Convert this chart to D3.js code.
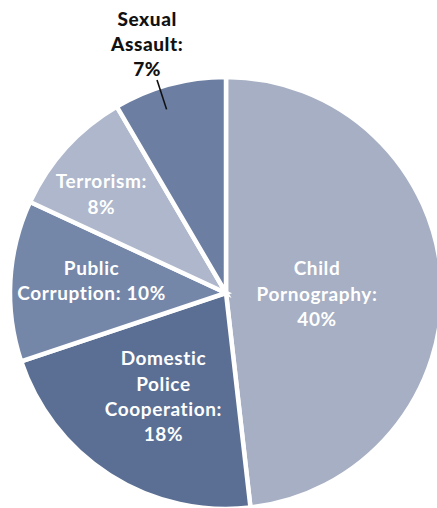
<!DOCTYPE html>
<html>
<head>
<meta charset="utf-8">
<script src="https://cdn.jsdelivr.net/npm/d3@7/dist/d3.min.js"></script>
<style>
  html, body { margin: 0; padding: 0; background: #fff; }
  svg { display: block; }
  text { font-family: "Lato", "Open Sans", sans-serif; }
</style>
</head>
<body>
<svg id="chart" width="437" height="508"></svg>
<script>
// Share of cases by crime type (percent)
const categories = ["Child Pornography", "Domestic Police Cooperation", "Public Corruption", "Terrorism", "Sexual Assault"];
const values = [40, 18, 10, 8, 7];
const labelLines = [
  ["Child", "Pornography:", "40%"],
  ["Domestic", "Police", "Cooperation:", "18%"],
  ["Public", "Corruption: 10%"],
  ["Terrorism:", "8%"],
  ["Sexual", "Assault:", "7%"]
];
const colors = ["#a6afc3", "#5b6f94", "#7587a8", "#aeb7cb", "#6c7ea1"];

const width = 437, height = 508;
const cx = 226, cy = 293, radius = 216;

// label placement: radius of label centre, angular nudge (radians), outside flag
const labelRadius = [91, 121, 135, 159, 261];
const labelNudge = [0.067, -0.024, 0.035, -0.068, -0.042];
const outside = [false, false, false, false, true];
const lineHeight = 25.3;

const svg = d3.select("#chart");
const g = svg.append("g").attr("transform", `translate(${cx},${cy})`);

const data = categories.map((c, i) => ({ name: c, value: values[i], lines: labelLines[i], color: colors[i], i }));

const pie = d3.pie().value(d => d.value).sort(null);
const arcs = pie(data);
const arc = d3.arc().innerRadius(0).outerRadius(radius);

g.selectAll("path.slice")
  .data(arcs)
  .join("path")
  .attr("class", "slice")
  .attr("d", arc)
  .attr("fill", d => d.data.color)
  .attr("stroke", "#fff")
  .attr("stroke-width", 4.5)
  .attr("stroke-linejoin", "miter");

// leader line for the outside label
arcs.filter(d => outside[d.data.i]).forEach(d => {
  const a = (d.startAngle + d.endAngle) / 2 - 0.048;
  const r0 = radius - 23, r1 = radius + 8;
  g.append("line")
    .attr("x1", Math.sin(a) * r0).attr("y1", -Math.cos(a) * r0)
    .attr("x2", Math.sin(a) * r1).attr("y2", -Math.cos(a) * r1)
    .attr("stroke", "#111").attr("stroke-width", 1.6);
});

arcs.forEach(d => {
  const i = d.data.i;
  const a = (d.startAngle + d.endAngle) / 2 + labelNudge[i];
  const r = labelRadius[i];
  const x = Math.sin(a) * r, y = -Math.cos(a) * r;
  const lines = d.data.lines;
  const t = g.append("text")
    .attr("text-anchor", "middle")
    .attr("font-size", 19)
    .attr("letter-spacing", 0.6)
    .attr("font-weight", outside[i] ? 900 : 700)
    .attr("fill", outside[i] ? "#111" : "#fff");
  lines.forEach((ln, k) => {
    t.append("tspan")
      .attr("x", x)
      .attr("y", y + (k - (lines.length - 1) / 2) * lineHeight)
      .attr("dy", "0.35em")
      .text(ln);
  });
});
</script>
</body>
</html>
